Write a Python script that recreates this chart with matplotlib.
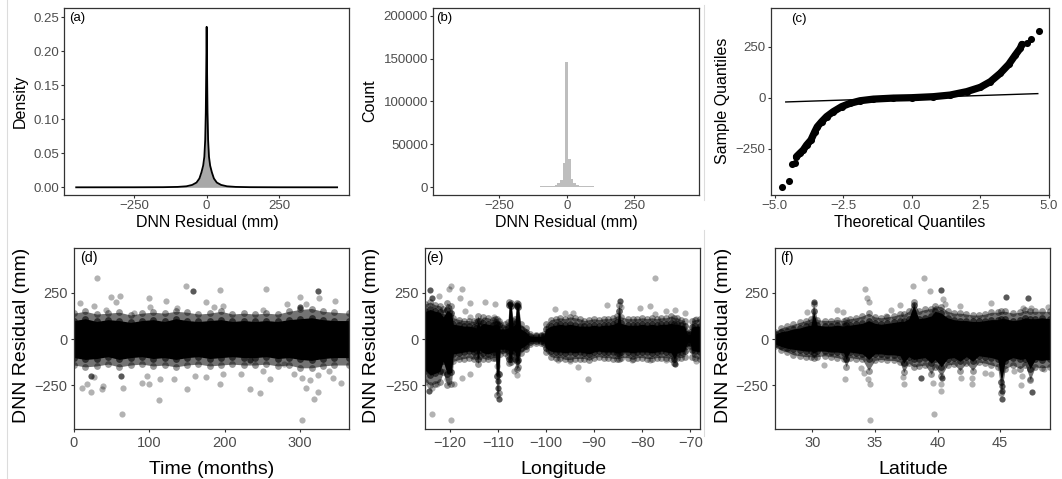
import numpy as np
import matplotlib
matplotlib.use('Agg')
from matplotlib import pyplot as plt

plt.rcParams['font.family'] = ['Liberation Sans', 'DejaVu Sans']

W, H = 1062, 479

# (a) density of the DNN residuals (one side, mirrored below)
dens_x_pos = [0, 1.5, 3, 5, 8, 12, 18, 25, 35, 50, 70, 100, 150, 250, 450]
dens_y_pos = [0.236, 0.17, 0.11, 0.07, 0.045, 0.032, 0.022, 0.013, 0.007,
              0.0035, 0.0015, 0.0006, 0.0002, 0.00005, 0.0]

# (b) histogram of the residuals
hist_edges = [-450, -200, -100, -55, -45, -35, -25, -15, -5, 5, 15, 25, 35,
              45, 55, 100, 170, 450]
hist_counts = [400, 700, 1300, 1800, 2700, 4700, 8500, 28000, 146000, 32600,
               9600, 4900, 2700, 1800, 1300, 700, 400]

# (c) normal QQ plot
qq_theo = [-4.72, -4.49, -4.37, -4.27, -4.21, -4.09, -3.96, -3.84, -3.68,
           -3.54, -3.45, -3.29, -3.11, -2.87, -2.56, -2.26, -1.89, -1.40,
           -0.67, 0.0, 0.79, 1.40, 2.01, 2.50, 2.87, 3.23, 3.54, 3.78, 3.96,
           4.02, 4.21, 4.37, 4.63]
qq_samp = [-438, -410, -328, -323, -290, -274, -257, -233, -208, -167, -143,
           -118, -93, -69, -44, -28, -15, -7, -2, 0, 5, 13, 30, 51, 79, 120,
           164, 210, 243, 262, 267, 287, 328]
qq_line_x = [-4.6, 4.6]
qq_line_y = [-21, 20]

# bottom row: dense band (x, core low, core high, halo low, halo high)
band_time = [
    (0, -100, 100, -140, 140), (15, -110, 110, -150, 150),
    (30, -105, 95, -145, 135), (45, -95, 105, -135, 140),
    (60, -110, 100, -150, 145), (75, -100, 90, -140, 130),
    (90, -95, 100, -135, 140), (105, -105, 105, -145, 145),
    (120, -100, 95, -140, 140), (135, -110, 110, -150, 150),
    (150, -100, 100, -140, 145), (165, -95, 95, -135, 135),
    (180, -105, 100, -145, 140), (195, -100, 105, -140, 150),
    (210, -95, 95, -135, 135), (225, -100, 100, -140, 140),
    (240, -100, 95, -140, 135), (255, -95, 100, -135, 140),
    (270, -105, 95, -145, 135), (285, -100, 105, -140, 150),
    (300, -110, 110, -155, 160), (315, -115, 115, -155, 165),
    (330, -105, 105, -145, 150), (345, -100, 100, -140, 145),
    (365, -100, 100, -140, 140)]

band_lon = [
    (-125, -170, 150, -230, 190), (-124, -195, 160, -250, 200),
    (-123, -185, 150, -240, 185), (-122, -175, 145, -230, 180),
    (-121.3, -120, 120, -180, 160), (-120.5, -190, 155, -250, 195),
    (-119.6, -180, 140, -240, 180), (-119.2, -80, 80, -120, 115),
    (-118, -75, 75, -110, 105), (-117, -70, 70, -105, 100),
    (-116, -65, 70, -100, 100), (-115, -70, 65, -110, 95),
    (-114.5, -60, 60, -90, 90), (-114.1, -110, 95, -135, 125),
    (-113.7, -60, 70, -90, 100), (-113, -75, 85, -105, 120),
    (-112, -80, 80, -110, 115), (-111, -70, 75, -100, 105),
    (-110.5, -70, 80, -100, 110), (-110.2, -200, 80, -300, 110),
    (-109.8, -190, 75, -290, 100), (-109.5, -55, 55, -80, 80),
    (-108.5, -55, 55, -75, 80), (-107.9, -60, 60, -90, 90),
    (-107.6, -110, 185, -130, 200), (-107.2, -105, 180, -125, 195),
    (-106.8, -60, 70, -90, 100), (-106.4, -70, 80, -110, 110),
    (-106.1, -120, 180, -160, 195), (-105.7, -115, 175, -150, 190),
    (-105.2, -50, 55, -75, 80), (-104.2, -35, 40, -55, 60),
    (-103.4, -15, 18, -25, 28), (-102, -12, 14, -20, 22),
    (-101, -12, 14, -20, 22), (-100.4, -15, 18, -25, 28),
    (-100, -50, 55, -70, 80), (-99, -65, 70, -95, 105),
    (-98, -70, 75, -100, 110), (-97, -70, 80, -100, 115),
    (-96, -75, 75, -110, 110), (-95, -70, 80, -110, 120),
    (-94, -75, 75, -105, 115), (-93, -70, 70, -105, 110),
    (-92, -75, 70, -105, 100), (-91, -80, 70, -115, 105),
    (-90, -70, 75, -100, 110), (-89, -65, 70, -95, 105),
    (-88, -70, 75, -100, 110), (-87, -70, 75, -100, 110),
    (-86, -70, 80, -105, 115), (-85.2, -75, 90, -105, 125),
    (-84.8, -75, 150, -105, 185), (-84.4, -70, 85, -100, 120),
    (-83, -70, 75, -100, 110), (-82, -75, 75, -110, 110),
    (-81, -70, 75, -100, 110), (-80, -70, 80, -100, 115),
    (-79, -70, 75, -105, 110), (-78, -75, 80, -105, 115),
    (-77, -70, 75, -100, 110), (-76, -65, 80, -100, 115),
    (-75, -70, 80, -100, 115), (-74, -75, 85, -105, 125),
    (-73.3, -110, 80, -130, 115), (-72.7, -75, 80, -100, 115),
    (-72, -70, 75, -100, 105), (-71.2, -65, 70, -95, 100),
    (-70.6, -20, 25, -35, 40), (-70.1, -20, 25, -35, 40),
    (-69.7, -60, 65, -95, 100), (-69, -65, 70, -100, 105),
    (-68, -70, 70, -110, 110)]

band_lat = [
    (27.0, -25, 25, -40, 40), (27.5, -40, 40, -60, 60),
    (28.0, -50, 45, -70, 70), (28.5, -55, 55, -85, 80),
    (29.0, -60, 60, -90, 90), (29.5, -65, 70, -95, 100),
    (29.9, -65, 75, -95, 110), (30.1, -75, 150, -100, 190),
    (30.4, -65, 75, -95, 105), (31.0, -65, 70, -90, 100),
    (31.5, -70, 70, -95, 100), (32.0, -70, 75, -100, 105),
    (32.5, -75, 70, -110, 100), (32.7, -110, 75, -150, 105),
    (33.0, -70, 75, -100, 110), (33.5, -75, 80, -105, 115),
    (34.0, -80, 85, -110, 125), (34.5, -110, 100, -170, 140),
    (35.0, -80, 85, -115, 120), (35.5, -80, 80, -110, 115),
    (36.0, -85, 85, -115, 120), (36.5, -85, 90, -115, 125),
    (37.0, -90, 95, -125, 135), (37.3, -130, 95, -180, 135),
    (37.7, -95, 110, -130, 150), (38.1, -110, 185, -150, 200),
    (38.5, -105, 110, -145, 150), (39.0, -100, 115, -140, 160),
    (39.5, -130, 125, -190, 165), (39.8, -110, 150, -150, 180),
    (40.3, -150, 140, -200, 175), (40.8, -105, 115, -140, 150),
    (41.3, -100, 105, -135, 140), (41.8, -120, 100, -170, 140),
    (42.3, -95, 100, -130, 135), (42.8, -120, 95, -170, 130),
    (43.3, -90, 95, -125, 130), (43.8, -95, 100, -130, 135),
    (44.3, -100, 105, -140, 145), (44.8, -110, 105, -150, 145),
    (45.1, -230, 110, -290, 150), (45.4, -120, 110, -160, 150),
    (46.0, -100, 100, -140, 140), (46.6, -110, 105, -160, 145),
    (47.0, -105, 115, -140, 155), (47.4, -160, 110, -220, 150),
    (47.8, -110, 110, -150, 150), (48.3, -115, 115, -155, 150),
    (49.0, -110, 110, -150, 150)]

# scattered points outside the band (light / darker overlaps)
out_time = [(30, 330), (8, 196), (49, 225), (61, 232), (56, 198), (100, 223),
            (122, 205), (148, 288), (175, 202), (194, 266), (198, 180),
            (255, 268), (282, 191), (300, 225), (346, 205), (325, 220),
            (307, 187), (251, 155), (185, 173), (137, 170), (101, 173),
            (79, 139), (43, 155), (26, 179), (63, -405), (113, -330),
            (302, -436), (318, -321), (324, -284), (307, -263), (302, -212),
            (10, -266), (22, -286), (17, -241), (37, -271), (27, -205),
            (39, -254), (65, -263), (90, -236), (100, -245), (97, -200),
            (114, -218), (133, -216), (150, -268), (160, -200), (175, -204),
            (194, -245), (198, -191), (221, -191), (234, -268), (246, -289),
            (251, -170), (260, -218), (292, -188), (313, -223), (323, -196),
            (338, -170), (354, -236), (344, -209), (278, -137)]
out_time_dark = [(158, 261), (324, 261), (23, -200), (62, -200), (233, -111),
                 (300, 175)]

out_lon = [(-123.7, -405), (-119.8, -436), (-120.1, 268), (-119.6, 286),
           (-122.1, 232), (-117.4, 268), (-117.9, 220), (-116.7, 152),
           (-115.7, 196), (-115.7, 121), (-112.7, 202), (-110.6, 189),
           (-110.7, 118), (-98.1, 161), (-96.0, 143), (-94.3, 139),
           (-87.4, 184), (-84.3, 171), (-80.5, 166), (-78.4, 179),
           (-77.4, 330), (-77.4, 134), (-75.0, 152), (-73.1, 157),
           (-71.2, 143), (-68.8, 109), (-91.3, -216), (-117.4, -209),
           (-115.7, -188), (-119.1, -245), (-122.6, -245), (-120.5, -218),
           (-123.6, -262), (-106.0, -195), (-106.7, -173), (-93.4, -152),
           (-97.4, -111), (-95.0, -120), (-82.1, -114), (-78.4, -111),
           (-75.0, -111), (-68.8, -120), (-110.0, -182), (-110.1, -146)]
out_lon_dark = [(-124.1, 264), (-123.6, 223), (-124.3, -280), (-84.6, 207),
                (-109.8, -325), (-109.9, -262), (-109.9, -227), (-73.2, -132),
                (-107.5, 190), (-106.0, 185)]

out_lat = [(34.63, -436), (39.68, -407), (38.88, 330), (38.03, 286),
           (39.41, 259), (34.18, 268), (34.36, 223), (34.52, 198),
           (32.0, 157), (32.45, 148), (36.97, 184), (36.3, 157), (35.9, 127),
           (40.43, 214), (40.6, 187), (41.76, 179), (44.28, 196), (48.8, 175),
           (47.47, 166), (46.8, 166), (29.6, 148), (30.93, -138),
           (32.58, -218), (34.63, -245), (34.44, -214), (33.86, -155),
           (34.1, -182), (37.29, -241), (37.23, -205), (39.63, -236),
           (40.29, -280), (40.29, -245), (41.89, -209), (42.77, -241),
           (42.77, -209), (44.28, -191), (46.68, -250), (46.73, -200),
           (47.39, -218), (46.14, -173), (43.75, -182), (48.5, -164)]
out_lat_dark = [(40.29, 263), (45.48, 229), (47.2, 223), (38.7, -209),
                (40.37, -209), (45.13, -325), (45.13, -280), (45.13, -254),
                (47.53, -286), (30.1, 200)]


def px_axes(left, top, right, bottom):
    return [left / W, 1 - bottom / H, (right - left) / W, (bottom - top) / H]


def px(x, y):
    return x / W, 1 - y / H


def style(ax, size):
    for s in ax.spines.values():
        s.set_color('#333333')
        s.set_linewidth(0.9)
    ax.tick_params(length=2.3, width=0.8, color='#333333',
                   labelcolor='#4d4d4d', labelsize=size, pad=1.5)


fig = plt.figure(figsize=(W / 100, H / 100), dpi=100)

# separators of the composite figure
for x0, y0, y1 in [(7, 0, 479), (704, 5, 200), (704, 230, 436)]:
    fig.add_artist(plt.Line2D([x0 / W, x0 / W], [1 - y0 / H, 1 - y1 / H],
                              color='#dcdcdc', lw=0.8,
                              transform=fig.transFigure))

# (a)
ax = fig.add_axes(px_axes(64.3, 8, 349.3, 195))
dx = [-v for v in dens_x_pos[::-1]] + dens_x_pos[1:]
dy = dens_y_pos[::-1] + dens_y_pos[1:]
ax.fill_between(dx, dy, color='#a8a8a8', lw=0)
ax.plot(dx, dy, color='black', lw=1.3)
ax.set_xlim(-491, 492)
ax.set_ylim(-0.0113, 0.2637)
ax.set_xticks([-250, 0, 250])
ax.set_yticks([0, 0.05, 0.10, 0.15, 0.20, 0.25])
ax.set_yticklabels(['0.00', '0.05', '0.10', '0.15', '0.20', '0.25'])
style(ax, 9.5)

# (b)
ax = fig.add_axes(px_axes(433.3, 8, 699.3, 195))
ax.stairs(hist_counts, hist_edges, fill=True, color='#bebebe')
ax.set_xlim(-495.5, 492.6)
ax.set_ylim(-8975, 208970)
ax.set_xticks([-250, 0, 250])
ax.set_yticks([0, 50000, 100000, 150000, 200000])
ax.set_yticklabels(['0', '50000', '100000', '150000', '200000'])
style(ax, 9.5)

# (c)
ax = fig.add_axes(px_axes(770.7, 8, 1049.3, 195))
ax.plot(qq_theo[4:-3], qq_samp[4:-3], color='black', lw=5.2,
        solid_capstyle='round', solid_joinstyle='round')
ax.scatter(qq_theo, qq_samp, s=26, color='black', lw=0, zorder=3)
ax.plot(qq_line_x, qq_line_y, color='black', lw=1.0, zorder=4)
ax.set_xlim(-5.15, 5.02)
ax.set_ylim(-478.5, 441)
ax.set_xticks([-5, -2.5, 0, 2.5, 5])
ax.set_xticklabels(['\u22125.0', '\u22122.5', '0.0', '2.5', '5.0'])
ax.set_yticks([-250, 0, 250])
style(ax, 9.5)

# bottom row
bottom_panels = [
    (px_axes(74, 248.3, 349.3, 429.3), band_time, out_time, out_time_dark,
     (0, 365), [0, 100, 200, 300]),
    (px_axes(425, 248.3, 700, 429.3), band_lon, out_lon, out_lon_dark,
     (-125.1, -68.0), [-120, -110, -100, -90, -80, -70]),
    (px_axes(775.3, 248.3, 1050.3, 429.3), band_lat, out_lat, out_lat_dark,
     (27.05, 49.0), [30, 35, 40, 45]),
]
for rect, band, pts, pts_dark, xlim, xt in bottom_panels:
    ax = fig.add_axes(rect)
    b = np.array(band, dtype=float)
    ax.fill_between(b[:, 0], b[:, 3], b[:, 4], color='black', alpha=0.55,
                    lw=0)
    ax.fill_between(b[:, 0], b[:, 1], b[:, 2], color='black', lw=0)
    # bumpy edges: dots sitting on the band outline
    for col, a in [(1, 0.6), (2, 0.6), (3, 0.4), (4, 0.4)]:
        ax.scatter(b[:, 0], b[:, col], s=24, color='black', alpha=a, lw=0)
    p = np.array(pts, dtype=float)
    ax.scatter(p[:, 0], p[:, 1], s=20, color='black', alpha=0.3, lw=0)
    q = np.array(pts_dark, dtype=float)
    ax.scatter(q[:, 0], q[:, 1], s=20, color='black', alpha=0.65, lw=0)
    ax.set_xlim(*xlim)
    ax.set_ylim(-487, 490)
    ax.set_xticks(xt)
    ax.set_yticks([-250, 0, 250])
    style(ax, 10.5)
    ax.tick_params(pad=2.5)

# axis titles
fig.text(*px(207, 222), 'DNN Residual (mm)', ha='center', va='center',
         fontsize=11.5)
fig.text(*px(566, 222), 'DNN Residual (mm)', ha='center', va='center',
         fontsize=11.5)
fig.text(*px(910, 222), 'Theoretical Quantiles', ha='center', va='center',
         fontsize=11.5)
fig.text(*px(20, 101), 'Density', ha='center', va='center', rotation=90,
         fontsize=11.5)
fig.text(*px(370, 101), 'Count', ha='center', va='center', rotation=90,
         fontsize=11.5)
fig.text(*px(722, 101), 'Sample Quantiles', ha='center', va='center',
         rotation=90, fontsize=11.5)

fig.text(*px(212, 469), 'Time (months)', ha='center', va='center',
         fontsize=14)
fig.text(*px(563, 469), 'Longitude', ha='center', va='center', fontsize=14)
fig.text(*px(913, 469), 'Latitude', ha='center', va='center', fontsize=14)
for xc in (21.7, 371.7, 723.3):
    fig.text(*px(xc, 335), 'DNN Residual (mm)', ha='center', va='center',
             rotation=90, fontsize=14)

# panel tags
for tag, x0, y0, fs in [('(a)', 69, 18, 9.5), ('(b)', 436, 18, 9.5),
                        ('(c)', 790.7, 19, 9.5), ('(d)', 80, 258, 10.2),
                        ('(e)', 426, 258, 10.2), ('(f)', 780, 258, 10.2)]:
    fig.text(*px(x0, y0), tag, ha='left', va='center', fontsize=fs)

fig.savefig('out.png', dpi=100)
